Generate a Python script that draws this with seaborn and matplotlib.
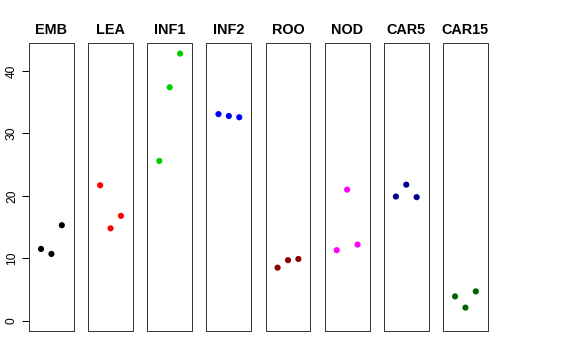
import matplotlib
matplotlib.use("Agg")
import matplotlib.pyplot as plt
import seaborn as sns
import pandas as pd

sns.set_style("white")
plt.rcParams['font.family'] = ['Liberation Sans', 'DejaVu Sans']
plt.rcParams['text.color'] = 'black'
plt.rcParams['axes.labelcolor'] = 'black'
plt.rcParams['ytick.color'] = 'black'
plt.rcParams['xtick.color'] = 'black'

tissues = ["EMB", "LEA", "INF1", "INF2", "ROO", "NOD", "CAR5", "CAR15"]
colors = ["#000000", "#FF0000", "#00CD00", "#0000FF", "#8B0000", "#FF00FF", "#00008B", "#006400"]
replicate = [1, 2, 3]
emb = [11.5, 10.7, 15.3]
lea = [21.7, 14.8, 16.8]
inf1 = [25.6, 37.4, 42.8]
inf2 = [33.1, 32.8, 32.6]
roo = [8.5, 9.7, 9.9]
nod = [11.3, 21.0, 12.2]
car5 = [19.9, 21.8, 19.8]
car15 = [3.9, 2.1, 4.7]
yticks = [0, 10, 20, 30, 40]

values = [emb, lea, inf1, inf2, roo, nod, car5, car15]
df = pd.DataFrame([
    {"tissue": t, "rep": r, "value": v}
    for t, vals in zip(tissues, values) for r, v in zip(replicate, vals)
])

fig, axes = plt.subplots(1, len(tissues), figsize=(8, 5), dpi=72, sharey=True)
fig.subplots_adjust(left=0.0503, right=0.847, top=0.8806, bottom=0.0814, wspace=0.317)

for ax, t, c in zip(axes, tissues, colors):
    sub = df[df["tissue"] == t]
    sns.scatterplot(data=sub, x="rep", y="value", ax=ax, color=c, s=38,
                    edgecolor="none", linewidth=0)
    ax.set_xlim(-0.16, 4.16)
    ax.set_ylim(-1.6, 44.5)
    ax.set_xticks([])
    ax.set_xlabel("")
    ax.set_ylabel("")
    ax.set_title(t, fontsize=14.4, fontweight="bold", pad=9, color="black")
    for sp in ax.spines.values():
        sp.set_color("#3a3a3a")
        sp.set_linewidth(1.0)
    ax.tick_params(axis="y", left=False, labelleft=False)

ax0 = axes[0]
ax0.set_yticks(yticks)
ax0.tick_params(axis="y", left=True, labelleft=True, length=7, width=1,
                color="black", labelcolor="black", pad=4, labelsize=12,
                labelrotation=90)
for lab in ax0.get_yticklabels():
    lab.set_va("center")

fig.savefig("out.png", dpi=72)
